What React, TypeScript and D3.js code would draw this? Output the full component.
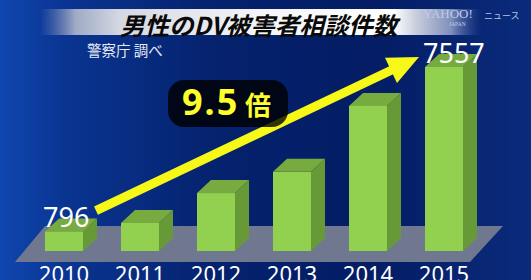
import React from "react";
import * as d3 from "d3";

const years = ["2010", "2011", "2012", "2013", "2014", "2015"];
const counts = [796, 1150, 2380, 3250, 5960, 7557];
const title = "男性のDV被害者相談件数";
const source = "警察庁 調べ";
const ratioNum = "9.5";
const ratioUnit = "倍";

const W = 531;
const H = 280;

export default function App() {
  const x = d3.scaleBand<string>().domain(years).range([45, 463]).paddingInner(0.5).paddingOuter(0);
  const y = d3.scaleLinear().domain([0, 7557]).range([251, 67]);
  const bw = x.bandwidth();
  const dx = 14;
  const dy = -13;
  const base = y(0);

  const first = counts[0];
  const last = counts[counts.length - 1];
  const x0 = x(years[0])!;
  const xN = x(years[years.length - 1])!;

  // arrow geometry derived from scales
  const sx = x0 + bw + 13;
  const sy = y(first) - 21;
  const tx = xN - 6;
  const ty = y(last) - 10;
  const vx = tx - sx;
  const vy = ty - sy;
  const len = Math.hypot(vx, vy);
  const ux = vx / len;
  const uy = vy / len;
  const px = -uy;
  const py = ux;
  const headLen = 31;
  const headW = 14;
  const bx = tx - ux * headLen;
  const by = ty - uy * headLen;
  const head = [
    [tx, ty],
    [bx + px * headW, by + py * headW],
    [bx - px * headW, by - py * headW],
  ];

  const latin = "'Noto Sans', 'Open Sans', sans-serif";
  const cjk = "'Noto Sans CJK JP', 'Noto Sans', sans-serif";

  return (
    <svg width={W} height={H} style={{ position: "fixed", left: 0, top: 0, display: "block" }}>
      <defs>
        <linearGradient id="bg" x1="0" x2="1" y1="0" y2="0">
          <stop offset="0" stopColor="#1046b0" />
          <stop offset="0.12" stopColor="#0a3592" />
          <stop offset="0.4" stopColor="#05226e" />
          <stop offset="0.7" stopColor="#041d64" />
          <stop offset="1" stopColor="#0a2b7c" />
        </linearGradient>
        <linearGradient id="banner" x1="40" x2="482" y1="0" y2="0" gradientUnits="userSpaceOnUse">
          <stop offset="0" stopColor="#8a96b8" stopOpacity="0" />
          <stop offset="0.08" stopColor="#b0b8cc" stopOpacity="0.9" />
          <stop offset="0.18" stopColor="#d4d8e2" />
          <stop offset="0.5" stopColor="#f4f5f8" />
          <stop offset="0.8" stopColor="#ffffff" />
          <stop offset="0.85" stopColor="#c8cedc" />
          <stop offset="0.93" stopColor="#7f8fbc" />
          <stop offset="1" stopColor="#3a55a0" stopOpacity="0" />
        </linearGradient>
      </defs>
      <rect x={0} y={0} width={W} height={H} fill="url(#bg)" />

      {/* title banner */}
      <rect x={40} y={9} width={442} height={26} fill="url(#banner)" />
      <text x={120} y={34.5} fontFamily={cjk} fontSize={24.5} fontWeight={700} fontStyle="italic" fill="#0a0a0a">
        {title}
      </text>
      <text x={423} y={18} fontFamily="'Liberation Serif', 'DejaVu Serif', serif" fontSize={13} fill="#c2cce6">
        YAHOO!
      </text>
      <text x={449} y={25.5} fontFamily="'Liberation Serif', serif" fontSize={5.5} fill="#c2cce6">
        JAPAN
      </text>
      <text x={484} y={19} fontFamily={cjk} fontSize={9} fill="#b8c4e4">
        ニュース
      </text>

      <text x={87} y={55.5} fontFamily={cjk} fontSize={14.5} fill="#e4e8f2">
        {source}
      </text>

      {/* floor */}
      <polygon
        points={[
          [x0 - 30, base + 11],
          [xN + bw + 7, base + 11],
          [xN + bw + 40, base - 25],
          [x0, base - 25],
        ]
          .map((p) => p.join(","))
          .join(" ")}
        fill="#707890"
      />

      {/* bars */}
      {years.map((yr, i) => {
        const bx0 = x(yr)!;
        const top = y(counts[i]);
        return (
          <g key={yr}>
            <polygon
              points={`${bx0 + bw},${top} ${bx0 + bw + dx},${top + dy} ${bx0 + bw + dx},${base + dy} ${bx0 + bw},${base}`}
              fill="#679a37"
            />
            <polygon
              points={`${bx0},${top} ${bx0 + dx},${top + dy} ${bx0 + bw + dx},${top + dy} ${bx0 + bw},${top}`}
              fill="#78ab3f"
            />
            <rect x={bx0} y={top} width={bw} height={base - top} fill="#92d050" />
          </g>
        );
      })}

      {/* arrow */}
      <line x1={sx} y1={sy} x2={bx + ux * 2} y2={by + uy * 2} stroke="#f8f818" strokeWidth={9} />
      <polygon points={head.map((p) => p.join(",")).join(" ")} fill="#f8f818" />

      {/* ratio badge */}
      <rect x={168} y={80} width={120} height={47} rx={16} fill="#000000" fillOpacity={0.8} />
      <text x={182} y={115} fontFamily={latin} fontSize={36} fontWeight={700} fill="#ffff2a" letterSpacing={2}>
        {ratioNum}
      </text>
      <text x={245} y={115} fontFamily={cjk} fontSize={26} fontWeight={700} fill="#ffff2a">
        {ratioUnit}
      </text>

      {/* value labels */}
      <text x={x0 - 2} y={y(first) - 5} fontFamily={latin} fontSize={27} fill="#ffffff">
        {String(first)}
      </text>
      <text x={xN - 2} y={y(last) - 4} fontFamily={latin} fontSize={27} fill="#ffffff">
        {String(last)}
      </text>

      {/* year labels (cut off at the bottom edge, as in the reference) */}
      {years.map((yr) => (
        <text
          key={yr}
          x={x(yr)! + bw / 2}
          y={282}
          textAnchor="middle"
          fontFamily={latin}
          fontSize={22}
          fill="#ffffff"
        >
          {yr}
        </text>
      ))}
    </svg>
  );
}
